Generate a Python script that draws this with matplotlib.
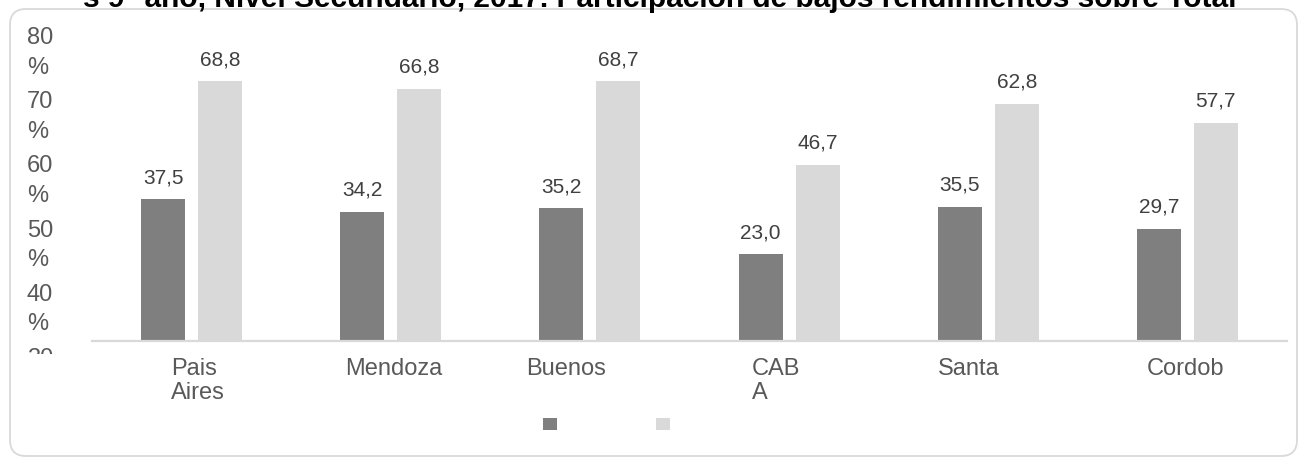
import matplotlib
matplotlib.use("Agg")
import matplotlib.pyplot as plt
import numpy as np
from matplotlib.patches import FancyBboxPatch, Patch
from matplotlib.transforms import IdentityTransform, ScaledTranslation

# --- data -------------------------------------------------------------------
categories = ["Pais\nAires", "Mendoza", "Buenos", "CAB\nA", "Santa", "Cordob"]
serie_oscura = [37.5, 34.2, 35.2, 23.0, 35.5, 29.7]
serie_clara = [68.8, 66.8, 68.7, 46.7, 62.8, 57.7]
pct_ticks = [30, 40, 50, 60, 70, 80]
title = "s 9° año, Nivel Secundario, 2017. Participación de bajos rendimientos sobre Total"

# --- layout (pixels) --------------------------------------------------------
W, H, DPI = 1304, 457, 100
label_shift_px = [6, 3, -24, -13, -19, -2]

DARK, LIGHT = "#7f7f7f", "#d9d9d9"
TXT = "#595959"

plt.rcParams["font.family"] = ["Liberation Sans", "DejaVu Sans"]
fig = plt.figure(figsize=(W / DPI, H / DPI), dpi=DPI)


def px_axes(left, top, right, bottom):
    return fig.add_axes([left / W, 1 - bottom / H, (right - left) / W, (bottom - top) / H])


# rounded chart frame
frame = FancyBboxPatch((10, 1), 1287, 447, boxstyle="round,pad=0,rounding_size=16",
                       transform=IdentityTransform(), fill=False,
                       edgecolor="#d9d9d9", linewidth=1.3)
fig.add_artist(frame)

# title (runs off the top edge)
fig.text(660 / W, 1 - 7 / H, title, ha="center", va="baseline",
         fontsize=21.5, fontweight="bold", color="black")

# --- bars -------------------------------------------------------------------
ax = px_axes(92, 38.7, 1287, 341)
x = np.arange(len(categories))
bw, off = 0.221, 0.143
bars_a = ax.bar(x - off, serie_oscura, bw, color=DARK)
bars_b = ax.bar(x + off, serie_clara, bw, color=LIGHT)
ax.set_xlim(-0.5, len(categories) - 0.5)
ax.set_ylim(0, 80)

for bars, vals in ((bars_a, serie_oscura), (bars_b, serie_clara)):
    for rect, v in zip(bars, vals):
        ax.annotate(f"{v:.1f}".replace(".", ","),
                    xy=(rect.get_x() + rect.get_width() / 2, v),
                    xytext=(0, 11.5), textcoords="offset points",
                    ha="center", va="baseline", fontsize=15, color="#404040")

for s in ("top", "right", "left"):
    ax.spines[s].set_visible(False)
ax.spines["bottom"].set_color(LIGHT)
ax.spines["bottom"].set_linewidth(1.6)
ax.set_yticks([])
ax.set_xticks(x)
ax.set_xticklabels(categories, fontsize=17, color=TXT, linespacing=1.15)
ax.tick_params(axis="x", length=0, pad=12)
for lab, dx in zip(ax.get_xticklabels(), label_shift_px):
    lab.set_multialignment("left")
    lab.set_transform(lab.get_transform() + ScaledTranslation(dx / DPI, 0, fig.dpi_scale_trans))

# --- percentage scale on the left ------------------------------------------
p_top, p_bot = 20, 354
y80, y30 = 27, 348
per_px = (80 - 30) / (y30 - y80)
axp = px_axes(27, p_top, 92, p_bot)
axp.set_ylim(30 - (p_bot - y30) * per_px, 80 + (y80 - p_top) * per_px)
axp.set_xlim(0, 1)
axp.axis("off")
axp.patch.set_facecolor("none")
for v in pct_ticks:
    axp.text(0, v, f"{v}\n%", ha="left", va="top", fontsize=17, color=TXT,
             linespacing=1.45, clip_on=True)

# --- legend (markers only) --------------------------------------------------
fs = 10
handles = [Patch(facecolor=DARK, edgecolor="none"), Patch(facecolor=LIGHT, edgecolor="none")]
fig.legend(handles, ["", ""], loc="center", bbox_to_anchor=(606.5 / W, 32 / H),
           ncol=2, frameon=False, fontsize=fs,
           handlelength=14 / 13.89, handleheight=14 / 13.89,
           handletextpad=0, columnspacing=99 / 13.89, borderpad=0)

fig.savefig("out.png", dpi=DPI)
